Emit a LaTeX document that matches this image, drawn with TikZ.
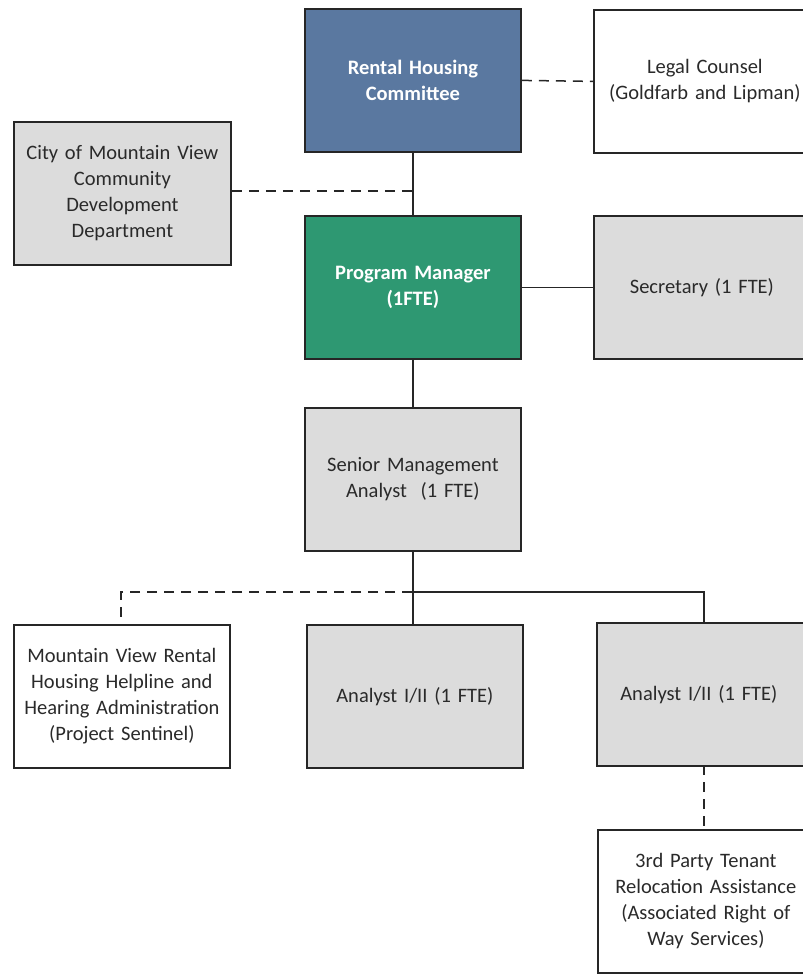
\documentclass[tikz,border=0pt]{standalone}
\usepackage{fontspec}
\setmainfont{Carlito}
\definecolor{rhcblue}{HTML}{5A78A0}
\definecolor{pmgreen}{HTML}{2E9872}
\definecolor{boxgray}{HTML}{DCDCDC}
\definecolor{txtgray}{HTML}{2A2A2A}
\begin{document}
\begin{tikzpicture}[x=1pt,y=-1pt,
  orgbox/.style={draw=black!85,line width=1.8pt,minimum width=216pt,minimum height=143pt,
    inner sep=2pt,align=center,text width=212pt,anchor=north west,
    font=\fontsize{20.5}{26}\selectfont,text=txtgray},
  graybox/.style={orgbox,fill=boxgray},
  whitebox/.style={orgbox,fill=white},
  conn/.style={line width=1.5pt,black!85},
  dconn/.style={conn,dash pattern=on 10pt off 7pt}]
\useasboundingbox (0,0) rectangle (803,975);
\clip (0,0) rectangle (803,975);
\node[orgbox,fill=rhcblue,text=white,font=\fontsize{20.5}{26}\selectfont\bfseries] (rhc) at (304,8) {Rental Housing\\Committee};
\node[whitebox,minimum width=222pt,text width=218pt] (legal) at (593,9) {Legal Counsel\\(Goldfarb and Lipman)};
\node[graybox,minimum width=217pt] (city) at (13,121) {City of Mountain View\\Community\\Development\\Department};
\node[orgbox,fill=pmgreen,text=white,font=\fontsize{20.5}{26}\selectfont\bfseries] (pm) at (304,215) {Program Manager\\(1FTE)};
\node[graybox] (sec) at (593,215) {Secretary (1 FTE)};
\node[graybox] (sma) at (304,407) {Senior Management\\Analyst\ \ (1 FTE)};
\node[whitebox] (mvr) at (13,624) {Mountain View Rental\\Housing Helpline and\\Hearing Administration\\(Project Sentinel)};
\node[graybox] (an1) at (306,624) {Analyst I/II (1 FTE)};
\node[graybox] (an2) at (596,622) {\hspace*{-12pt}Analyst I/II (1 FTE)};
\node[whitebox] (third) at (597,829) {3rd Party Tenant\\Relocation Assistance\\(Associated Right of\\Way Services)};
\coordinate (j1) at (412,191);
\coordinate (j2) at (412,592);
\coordinate (jl) at (121,592);
\coordinate (jr) at (704,592);
\coordinate (jb) at (704,765);
\draw[conn] (rhc.south) -- (pm.north);
\draw[dconn] (city.east |- j1) -- (j1);
\draw[dconn] (rhc.east) -- (legal.west);
\draw[conn] (pm.east) -- (sec.west);
\draw[conn] (pm.south) -- (sma.north);
\draw[conn] (sma.south) -- (sma.south |- an1.north);
\draw[conn] (j2) -- (jr) -- (jr |- an2.north);
\draw[dconn] (j2) -- (jl) -- (jl |- mvr.north);
\draw[dconn] (jb) -- (jb |- third.north);
\end{tikzpicture}
\end{document}
